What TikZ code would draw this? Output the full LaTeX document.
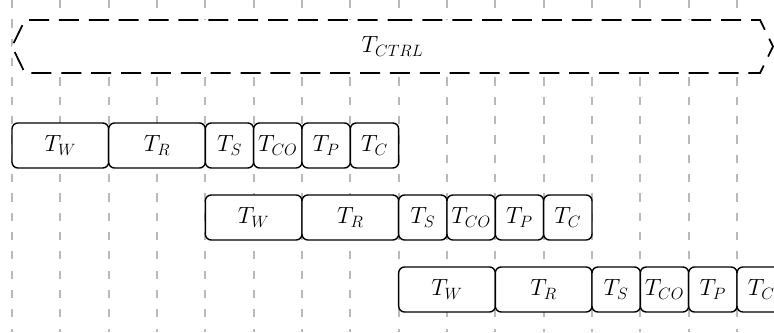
\RequirePackage{fix-cm}
\documentclass[tikz,border=0pt]{standalone}
\usepackage{xcolor}
\usepackage{tikz}
\usetikzlibrary{shapes,arrows.meta,positioning,calc}
\DeclareMathSizes{20}{20}{14}{10}
\definecolor{tgrid}{HTML}{B9B9B9}
\tikzstyle{gridline} = [tgrid, line width=1.7pt, dash pattern=on 7pt off 9.5pt]
\tikzstyle{phase} = [rectangle, draw=black, line width=1.2pt, rounded corners=5pt,
    fill=white, minimum height=1.35cm, inner sep=0pt, outer sep=0pt,
    font=\fontsize{20}{24}\selectfont]
\tikzstyle{longphase} = [phase, minimum width=2.9cm]
\tikzstyle{shortphase} = [phase, minimum width=1.45cm]
\tikzstyle{ctrlbox} = [signal, signal to=east and west, signal pointer angle=128,
    draw=black, line width=1.5pt, dash pattern=on 17pt off 8.5pt, fill=white,
    minimum width=22.83cm, minimum height=1.59cm, inner sep=0pt, outer sep=0pt,
    font=\fontsize{20}{24}\selectfont]

\begin{document}
\begin{tikzpicture}[node distance=0cm]
\clip (0,0) rectangle (23.22,-9.96);
% time grid
\foreach \k in {0,...,15}
  \draw[gridline] (0.36+1.45*\k,0) -- (0.36+1.45*\k,-9.96);

% control period
\node[ctrlbox, anchor=west] (ctrl) at (0.36,-1.395) {$T_{CTRL}$};

% cycle 1
\node[longphase, anchor=west] (w1) at (0.36,-4.365) {$T_W$};
\node[longphase, right=of w1] (r1) {$T_R$};
\node[shortphase, right=of r1] (s1) {$T_S$};
\node[shortphase, right=of s1] (co1) {$T_{CO}$};
\node[shortphase, right=of co1] (p1) {$T_P$};
\node[shortphase, right=of p1] (c1) {$T_C$};

% cycle 2
\node[longphase, below=0.81cm of s1.south west, anchor=north west] (w2) {$T_W$};
\node[longphase, right=of w2] (r2) {$T_R$};
\node[shortphase, right=of r2] (s2) {$T_S$};
\node[shortphase, right=of s2] (co2) {$T_{CO}$};
\node[shortphase, right=of co2] (p2) {$T_P$};
\node[shortphase, right=of p2] (c2) {$T_C$};

% cycle 3
\node[longphase, below=0.81cm of s2.south west, anchor=north west] (w3) {$T_W$};
\node[longphase, right=of w3] (r3) {$T_R$};
\node[shortphase, right=of r3] (s3) {$T_S$};
\node[shortphase, right=of s3] (co3) {$T_{CO}$};
\node[shortphase, right=of co3] (p3) {$T_P$};
\node[shortphase, right=of p3] (c3) {$T_C$};
\end{tikzpicture}
\end{document}
